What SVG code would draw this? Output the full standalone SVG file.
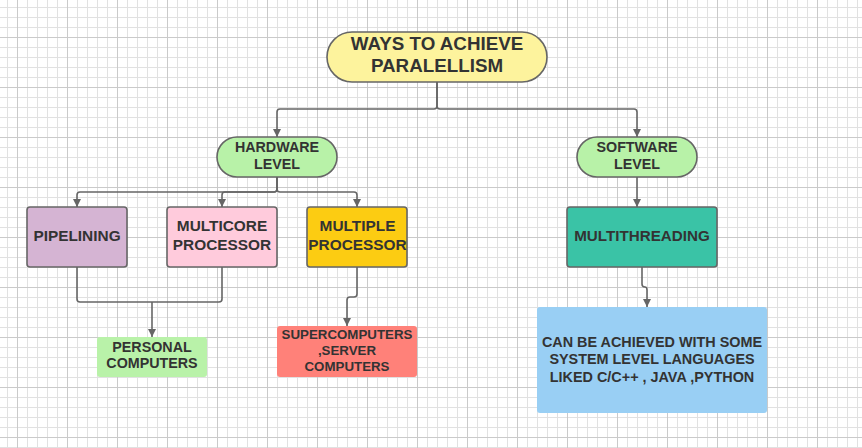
<svg xmlns="http://www.w3.org/2000/svg" width="862" height="448" viewBox="0 0 862 448">
<defs>
<pattern id="gMinor" width="10" height="10" patternUnits="userSpaceOnUse" x="7" y="7">
<path d="M0.5,0 V10 M0,0.5 H10" stroke="#e1e1e1" stroke-width="1" fill="none"/>
</pattern>
<pattern id="gMajor" width="50" height="50" patternUnits="userSpaceOnUse" x="17" y="37">
<path d="M0.5,0 V50 M0,0.5 H50" stroke="#cacaca" stroke-width="1" fill="none"/>
</pattern>
<marker id="arr" viewBox="0 0 10 10" refX="10" refY="5" markerWidth="8" markerHeight="8" markerUnits="userSpaceOnUse" orient="auto">
<path d="M0,0 L10,5 L0,10 Z" fill="#666666"/>
</marker>
<style>
.node{stroke:#666666;stroke-width:1.6}
.flat{stroke:none}
.t{font-family:"Liberation Sans",Arial,sans-serif;font-weight:bold;fill:#333333;text-anchor:middle}
.edge{fill:none;stroke:#666666;stroke-width:1.6}
</style>
</defs>
<rect width="862" height="448" fill="#ffffff"/>
<rect width="862" height="448" fill="url(#gMinor)"/>
<rect width="862" height="448" fill="url(#gMajor)"/>

<g id="connectors">
<path class="edge" d="M437,82 V106 Q437,109 434,109 H280 Q277,109 277,112 V137" marker-end="url(#arr)"/>
<path class="edge" d="M437,82 V106 Q437,109 440,109 H634 Q637,109 637,112 V137" marker-end="url(#arr)"/>
<path class="edge" d="M277,177 V189 Q277,192 274,192 H80 Q77,192 77,195 V207" marker-end="url(#arr)"/>
<path class="edge" d="M277,177 V189 Q277,192 274,192 H225 Q222,192 222,195 V207" marker-end="url(#arr)"/>
<path class="edge" d="M277,177 V189 Q277,192 280,192 H354 Q357,192 357,195 V207" marker-end="url(#arr)"/>
<path class="edge" d="M637,177 V207" marker-end="url(#arr)"/>
<path class="edge" d="M77,267 V299 Q77,302 80,302 H219 Q222,302 222,299 V267"/>
<path class="edge" d="M152,302 V337" marker-end="url(#arr)"/>
<path class="edge" d="M357,267 V294 Q357,297 354,297 H350 Q347,297 347,300 V326" marker-end="url(#arr)"/>
<path class="edge" d="M642,267 V284 Q642,287 645,287 Q647,287 647,290 V307" marker-end="url(#arr)"/>
</g>

<g id="title">
<rect class="node" x="327" y="32" width="220" height="50" rx="25" fill="#fdf39d"/>
<text class="t" x="437" y="49.5" font-size="18.8">WAYS TO ACHIEVE</text>
<text class="t" x="437" y="71.5" font-size="18.8">PARALELLISM</text>
</g>

<g id="hardware">
<rect class="node" x="217" y="137" width="120" height="40" rx="20" fill="#b8f2a8"/>
<text class="t" x="277" y="151.7" font-size="14.3">HARDWARE</text>
<text class="t" x="277" y="168.5" font-size="14.3">LEVEL</text>
</g>

<g id="software">
<rect class="node" x="577" y="137" width="120" height="40" rx="20" fill="#b8f2a8"/>
<text class="t" x="637" y="151.7" font-size="14.3">SOFTWARE</text>
<text class="t" x="637" y="168.5" font-size="14.3">LEVEL</text>
</g>

<g id="pipelining">
<rect class="node" x="27" y="207" width="100" height="60" rx="3" fill="#d5b4d3"/>
<text class="t" x="77" y="240.8" font-size="15.4">PIPELINING</text>
</g>

<g id="multicore">
<rect class="node" x="167" y="207" width="110" height="60" rx="3" fill="#ffcbdc"/>
<text class="t" x="222" y="230.8" font-size="15.4">MULTICORE</text>
<text class="t" x="222" y="249.6" font-size="15.4">PROCESSOR</text>
</g>

<g id="multiple">
<rect class="node" x="307" y="207" width="100" height="60" rx="3" fill="#fccc12"/>
<text class="t" x="357.5" y="230.8" font-size="15.4">MULTIPLE</text>
<text class="t" x="357.5" y="249.6" font-size="15.4">PROCESSOR</text>
</g>

<g id="multithreading">
<rect class="node" x="567" y="207" width="150" height="60" rx="3" fill="#3ac3a6"/>
<text class="t" x="642" y="240.8" font-size="15.2">MULTITHREADING</text>
</g>

<g id="personal">
<rect class="flat" x="97" y="337" width="110" height="40" rx="3" fill="#b9f2a9"/>
<text class="t" x="152" y="351.7" font-size="14.3">PERSONAL</text>
<text class="t" x="152" y="368.3" font-size="14.3">COMPUTERS</text>
</g>

<g id="supercomputers">
<rect class="flat" x="277" y="326" width="140" height="51" rx="3" fill="#ff8179"/>
<text class="t" x="347" y="339" font-size="13.3">SUPERCOMPUTERS</text>
<text class="t" x="347" y="355" font-size="13.3">,SERVER</text>
<text class="t" x="347" y="370.7" font-size="13.3">COMPUTERS</text>
</g>

<g id="languages">
<rect class="flat" x="537" y="307" width="230" height="106" rx="3" fill="#99cff4"/>
<text class="t" x="652" y="347.3" font-size="14.4">CAN BE ACHIEVED WITH SOME</text>
<text class="t" x="652" y="364.3" font-size="14.4">SYSTEM LEVEL LANGUAGES</text>
<text class="t" x="652" y="381.7" font-size="14.4">LIKED C/C++ , JAVA ,PYTHON</text>
</g>
</svg>
